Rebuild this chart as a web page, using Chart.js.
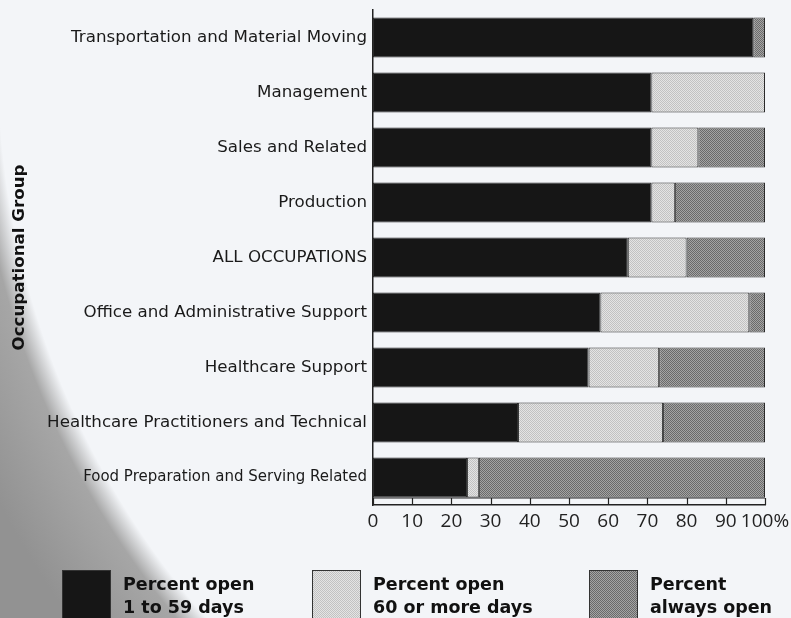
<!DOCTYPE html>
<html>
<head>
<meta charset="utf-8">
<script src="https://cdn.jsdelivr.net/npm/chart.js@4.4.1/dist/chart.umd.min.js"></script>
<style>
  html, body { margin: 0; padding: 0; }
  body {
    width: 791px;
    height: 618px;
    overflow: hidden;
    background:
      radial-gradient(circle at 841px 63px, #f3f5f8 0, #f3f5f8 843px, #a6a6a6 866px, #929292 950px);
  }
  canvas { display: block; }
</style>
</head>
<body>
<canvas id="chart" width="791" height="618"></canvas>
<script>
var categories = [
  "Transportation and Material Moving",
  "Management",
  "Sales and Related",
  "Production",
  "ALL OCCUPATIONS",
  "Office and Administrative Support",
  "Healthcare Support",
  "Healthcare Practitioners and Technical",
  "Food Preparation and Serving Related",
];
var shortOpen = [97, 71, 71, 71, 65, 58, 55, 37, 24];
var longOpen = [0, 29, 12, 6, 15, 38, 18, 37, 3];
var alwaysOpen = [3, 0, 17, 23, 20, 4, 27, 26, 73];
var seriesNames = [
  ["Percent open", "1 to 59 days"],
  ["Percent open", "60 or more days"],
  ["Percent", "always open"],
];
var xTicks = [0, 10, 20, 30, 40, 50, 60, 70, 80, 90, 100];

var FONT = "'DejaVu Sans', sans-serif";

// checkerboard halftone, like the printed screen tones
function dotPattern(a, b) {
  var c = document.createElement("canvas");
  c.width = 2;
  c.height = 2;
  var g = c.getContext("2d");
  g.fillStyle = a;
  g.fillRect(0, 0, 2, 2);
  g.fillStyle = b;
  g.fillRect(0, 0, 1, 1);
  g.fillRect(1, 1, 1, 1);
  return g.createPattern(c, "repeat");
}

var fills = [
  "#161616",
  dotPattern("#e4e4e4", "#c2c2c2"),
  dotPattern("#a4a4a4", "#6a6a6a"),
];

var stripAndLegend = {
  id: "stripAndLegend",
  afterDraw: function (chart) {
    var ctx = chart.ctx;
    var xs = chart.scales.x;
    var bottom = chart.chartArea.bottom;
    ctx.save();
    ctx.strokeStyle = "#222";
    ctx.lineWidth = 1.2;
    ctx.beginPath();
    ctx.moveTo(xs.getPixelForValue(0), bottom - 7);
    ctx.lineTo(xs.getPixelForValue(100), bottom - 7);
    xTicks.forEach(function (v) {
      var px = Math.round(xs.getPixelForValue(v)) + 0.5;
      ctx.moveTo(px, bottom - 7);
      ctx.lineTo(px, bottom);
    });
    ctx.stroke();

    // legend along the bottom
    var boxX = [62, 312, 589];
    ctx.font = "bold 17.5px " + FONT;
    ctx.textBaseline = "middle";
    ctx.textAlign = "left";
    chart.data.datasets.forEach(function (ds, i) {
      ctx.fillStyle = ds.backgroundColor;
      ctx.fillRect(boxX[i], 570, 49, 50);
      ctx.strokeStyle = "#333";
      ctx.lineWidth = 1;
      ctx.strokeRect(boxX[i] + 0.5, 570.5, 48, 50);
      ctx.fillStyle = "#111";
      seriesNames[i].forEach(function (line, j) {
        ctx.fillText(line, boxX[i] + 61, 585 + j * 23);
      });
    });
    ctx.restore();
  },
};

var ctx = document.getElementById("chart").getContext("2d");
var chart = new Chart(ctx, {
  type: "bar",
  data: {
    labels: categories,
    datasets: [
      { label: seriesNames[0].join(" "), data: shortOpen, backgroundColor: fills[0] },
      { label: seriesNames[1].join(" "), data: longOpen, backgroundColor: fills[1] },
      { label: seriesNames[2].join(" "), data: alwaysOpen, backgroundColor: fills[2] },
    ],
  },
  options: {
    indexAxis: "y",
    responsive: false,
    animation: false,
    layout: { padding: { top: 10, right: 26, bottom: 83, left: 0 } },
    datasets: {
      bar: {
        categoryPercentage: 1,
        barPercentage: 0.73,
        borderWidth: 1,
        borderColor: "#2a2a2a",
        borderSkipped: false,
      },
    },
    plugins: {
      legend: { display: false },
      tooltip: { enabled: false },
    },
    scales: {
      x: {
        stacked: true,
        min: 0,
        max: 100,
        afterFit: function (s) {
          s.height = 30;
          s.paddingRight = 0;
          s.paddingLeft = 0;
        },
        afterBuildTicks: function (s) {
          s.ticks = xTicks.map(function (v) { return { value: v }; });
        },
        grid: { display: false, drawTicks: false },
        border: { display: true, color: "#222", width: 1.5 },
        ticks: {
          color: "#222",
          padding: 5,
          maxRotation: 0,
          autoSkip: false,
          font: { family: "'Open Sans', sans-serif", size: 19 },
          callback: function (v) { return v === 100 ? "100%" : v; },
        },
      },
      y: {
        stacked: true,
        afterFit: function (s) {
          s.width = 373;
          s.paddingTop = 0;
          s.paddingBottom = 0;
        },
        grid: { display: false, drawTicks: false },
        border: { display: true, color: "#222", width: 1.5 },
        title: {
          display: true,
          text: "Occupational Group",
          color: "#111",
          font: { family: FONT, size: 16.7, weight: "bold" },
          padding: { top: 10, bottom: 0 },
        },
        ticks: {
          color: "#1a1a1a",
          padding: 6,
          autoSkip: false,
          font: function (c) {
            return { family: FONT, size: c.index === 8 ? 15 : 16.7 };
          },
        },
      },
    },
  },
  plugins: [stripAndLegend],
});
</script>
</body>
</html>
